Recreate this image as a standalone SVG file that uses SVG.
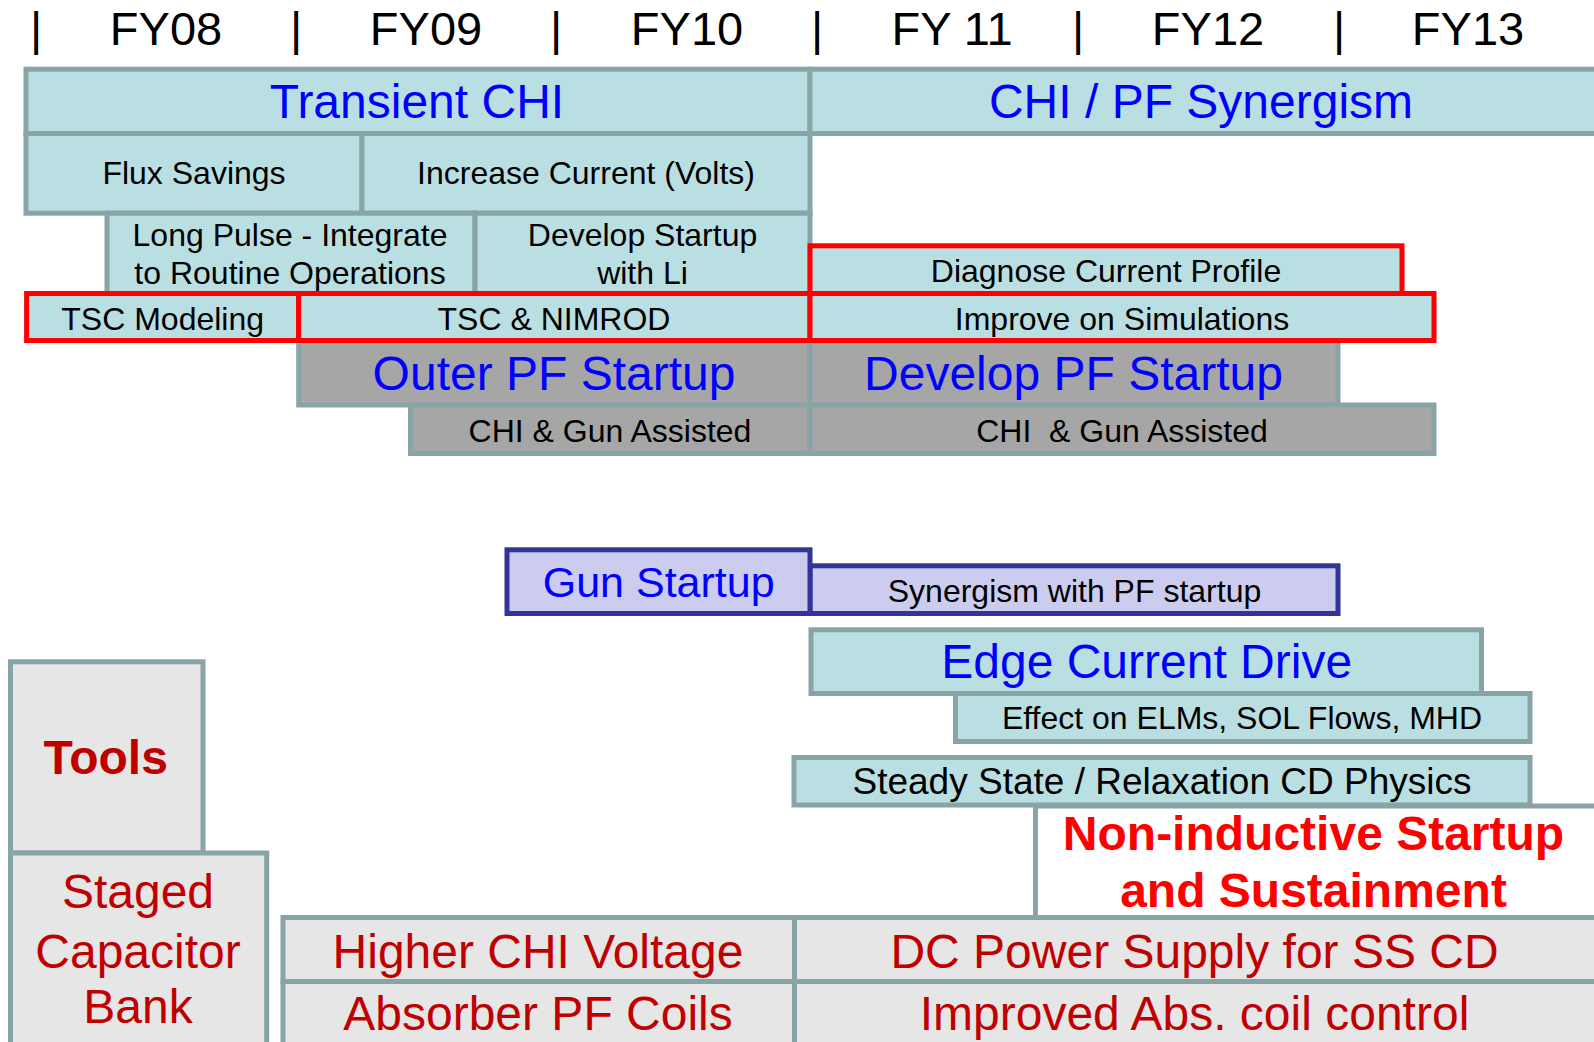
<svg xmlns="http://www.w3.org/2000/svg" width="1594" height="1042" viewBox="0 0 1594 1042">
<style>
text{font-family:"Liberation Sans",Arial,sans-serif;text-anchor:middle}
.hd{font-size:47px;fill:#000}
.t{fill:#BADFE2;stroke:#89A4A7;stroke-width:5}
.g{fill:#A6A6A6;stroke:#89A4A7;stroke-width:5}
.lg{fill:#E6E6E6;stroke:#89A4A7;stroke-width:5}
.w{fill:#FFFFFF;stroke:#89A4A7;stroke-width:5}
.r{fill:#BADFE2;stroke:#FF0000;stroke-width:5}
.p{fill:#CCCCEE;stroke:#333399;stroke-width:5}
.big{font-size:48px;fill:#0000FF}
.mid{font-size:32px;fill:#000}
.tool{font-size:48px;fill:#C00000}
.bold{font-weight:bold}
</style>
<rect width="1594" height="1042" fill="#FFFFFF"/>
<g id="header">
<text class="hd" x="36" y="45">|</text>
<text class="hd" x="166" y="45">FY08</text>
<text class="hd" x="296" y="45">|</text>
<text class="hd" x="426" y="45">FY09</text>
<text class="hd" x="556" y="45">|</text>
<text class="hd" x="687" y="45">FY10</text>
<text class="hd" x="817" y="45">|</text>
<text class="hd" x="952" y="45">FY 11</text>
<text class="hd" x="1078" y="45">|</text>
<text class="hd" x="1208" y="45">FY12</text>
<text class="hd" x="1339" y="45">|</text>
<text class="hd" x="1468" y="45">FY13</text>
</g>
<g id="connectors"></g>
<g id="transient-chi"><rect class="t" x="26" y="69.2" width="784" height="64.3"/><text class="big" x="417" y="118">Transient CHI</text></g>
<g id="chi-pf-synergism"><rect class="t" x="810" y="69.2" width="800" height="64.3"/><text class="big" x="1201" y="118">CHI / PF Synergism</text></g>
<g id="flux-savings"><rect class="t" x="26" y="133.5" width="336" height="79.7"/><text class="mid" x="194" y="184">Flux Savings</text></g>
<g id="increase-current"><rect class="t" x="362" y="133.5" width="448" height="79.7"/><text class="mid" x="586" y="184">Increase Current (Volts)</text></g>
<g id="long-pulse"><rect class="t" x="107" y="213.2" width="368" height="80.3"/><text class="mid" x="290" y="246">Long Pulse - Integrate</text><text class="mid" x="290" y="284">to Routine Operations</text></g>
<g id="develop-startup-li"><rect class="t" x="475" y="213.2" width="335" height="80.3"/><text class="mid" x="642.5" y="246">Develop Startup</text><text class="mid" x="642.5" y="284">with Li</text></g>
<g id="outer-pf-startup"><rect class="g" x="298.7" y="340.5" width="511" height="64.5"/><text class="big" x="554" y="390">Outer PF Startup</text></g>
<g id="develop-pf-startup"><rect class="g" x="810" y="340.5" width="528" height="64.5"/><text class="big" x="1073.5" y="390">Develop PF Startup</text></g>
<g id="chi-gun-1"><rect class="g" x="410.5" y="405" width="399.5" height="48.5"/><text class="mid" x="610" y="441.5">CHI &amp; Gun Assisted</text></g>
<g id="chi-gun-2"><rect class="g" x="810" y="405" width="624" height="48.5"/><text class="mid" x="1122" y="441.5" xml:space="preserve">CHI  &amp; Gun Assisted</text></g>
<g id="diagnose"><rect class="r" x="810" y="245.8" width="592" height="47.7"/><text class="mid" x="1106" y="281.5">Diagnose Current Profile</text></g>
<g id="tsc-modeling"><rect class="r" x="26.6" y="293.5" width="272" height="47"/><text class="mid" x="162.7" y="330">TSC Modeling</text></g>
<g id="tsc-nimrod"><rect class="r" x="298.7" y="293.5" width="511.3" height="47"/><text class="mid" x="554" y="330">TSC &amp; NIMROD</text></g>
<g id="improve-sim"><rect class="r" x="810" y="293.5" width="624" height="47"/><text class="mid" x="1122" y="330">Improve on Simulations</text></g>
<g id="synergism-pf"><rect class="p" x="810" y="565.8" width="528" height="47.7"/><text class="mid" x="1074.5" y="601.5">Synergism with PF startup</text></g>
<g id="gun-startup"><rect class="p" x="507" y="549.8" width="303" height="63.7"/><text class="big" x="658.7" y="596.5" style="font-size:43px">Gun Startup</text></g>
<g id="edge-cd"><rect class="t" x="811" y="629.8" width="670.5" height="63.7"/><text class="big" x="1146.7" y="678">Edge Current Drive</text></g>
<g id="effect-elms"><rect class="t" x="955.5" y="693.5" width="574.5" height="48"/><text class="mid" x="1242" y="729.3">Effect on ELMs, SOL Flows, MHD</text></g>
<g id="steady-state"><rect class="t" x="794" y="757.5" width="736" height="47.5"/><text class="mid" x="1162" y="794.3" style="font-size:37px">Steady State / Relaxation CD Physics</text></g>
<g id="non-inductive"><rect class="w" x="1035.5" y="806" width="600" height="111.5"/><text class="bold" x="1313.5" y="850" style="font-size:48px;fill:#FF0000">Non-inductive Startup</text><text class="bold" x="1313.5" y="906.7" style="font-size:48px;fill:#FF0000">and Sustainment</text></g>
<g id="tools"><rect class="lg" x="10.5" y="661.8" width="192.5" height="191.2"/><text class="tool bold" x="105.7" y="774" style="font-size:48px">Tools</text></g>
<g id="staged-cap"><rect class="lg" x="10.5" y="853" width="256.2" height="220"/><text class="tool" x="138" y="908.3">Staged</text><text class="tool" x="138" y="967.7">Capacitor</text><text class="tool" x="138" y="1023.3">Bank</text></g>
<g id="higher-chi"><rect class="lg" x="283" y="917.5" width="511.5" height="64"/><text class="tool" x="538" y="967.7">Higher CHI Voltage</text></g>
<g id="absorber"><rect class="lg" x="283" y="981.5" width="511.5" height="90"/><text class="tool" x="538" y="1030">Absorber PF Coils</text></g>
<g id="dc-power"><rect class="lg" x="794.5" y="917.5" width="850" height="64"/><text class="tool" x="1194.5" y="967.7">DC Power Supply for SS CD</text></g>
<g id="improved-abs"><rect class="lg" x="794.5" y="981.5" width="850" height="90"/><text class="tool" x="1194.5" y="1030">Improved Abs. coil control</text></g>
</svg>
